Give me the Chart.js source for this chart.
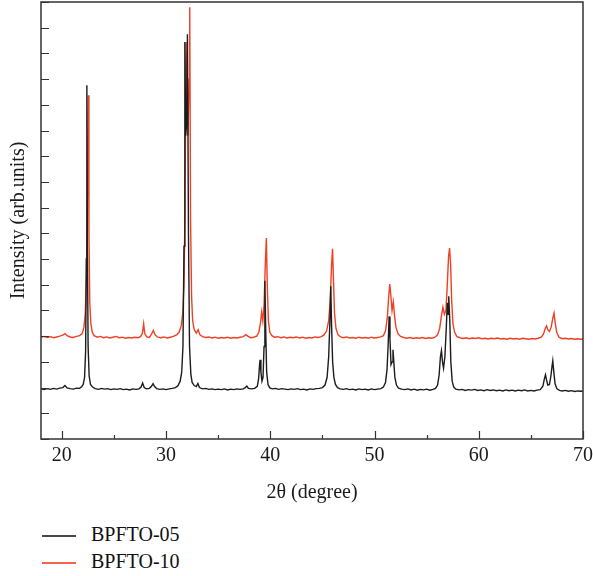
<!DOCTYPE html>
<html>
<head>
<meta charset="utf-8">
<script src="https://cdn.jsdelivr.net/npm/chart.js@4.4.1/dist/chart.umd.min.js"></script>
<style>
  body { margin: 0; background: #fff; }
  #wrap { position: relative; width: 593px; height: 576px; overflow: hidden; }
  #box { position: absolute; left: 0; top: 0; width: 593px; height: 505px; }
  .fila { position: absolute; left: 42px; height: 28px; line-height: 28px; font: 20px "Liberation Serif", "DejaVu Serif", serif; color: #111; white-space: nowrap; }
  .fila span { display: inline-block; width: 34px; height: 2px; vertical-align: middle; margin-right: 15px; opacity: 0.8; }
</style>
</head>
<body>
<div id="wrap">
  <div id="box"><canvas id="grafico"></canvas></div>
  <div id="leyenda"></div>
</div>
<script>
// ==============================
// DATOS
// ==============================
const series = ["BPFTO-05", "BPFTO-10"];
const xTicks = [20, 25, 30, 35, 40, 45, 50, 55, 60, 65, 70];

const x05 = [
  18.0, 18.3, 18.6, 18.9, 19.2, 19.5, 19.8, 20.1, 20.3, 20.5,
  20.8, 21.1, 21.4, 21.7, 21.9, 22.05, 22.18, 22.28, 22.35, 22.4,
  22.45, 22.52, 22.62, 22.75, 22.95, 23.2, 23.5, 23.8, 24.1, 24.4,
  24.7, 25.0, 25.3, 25.6, 25.9, 26.2, 26.5, 26.8, 27.1, 27.4,
  27.6, 27.75, 27.9, 28.1, 28.4, 28.6, 28.75, 28.9, 29.1, 29.4,
  29.7, 30.0, 30.3, 30.6, 30.9, 31.15, 31.35, 31.5, 31.62, 31.72,
  31.8, 31.88, 31.96, 32.05, 32.15, 32.25, 32.38, 32.5, 32.7, 32.9,
  33.05, 33.2, 33.5, 33.8, 34.1, 34.4, 34.7, 35.0, 35.3, 35.6,
  35.9, 36.2, 36.5, 36.8, 37.1, 37.4, 37.6, 37.75, 37.9, 38.2,
  38.5, 38.75, 38.88, 38.97, 39.02, 39.1, 39.2, 39.3, 39.4, 39.48,
  39.56, 39.65, 39.78, 39.95, 40.2, 40.5, 40.8, 41.1, 41.4, 41.7,
  42.0, 42.3, 42.6, 42.9, 43.2, 43.5, 43.8, 44.1, 44.4, 44.7,
  45.0, 45.25, 45.45, 45.6, 45.72, 45.8, 45.88, 45.98, 46.1, 46.25,
  46.45, 46.7, 47.0, 47.3, 47.6, 47.9, 48.2, 48.5, 48.8, 49.1,
  49.4, 49.7, 50.0, 50.3, 50.6, 50.85, 51.05, 51.2, 51.32, 51.4,
  51.48, 51.58, 51.68, 51.77, 51.85, 51.95, 52.1, 52.3, 52.6, 52.9,
  53.2, 53.5, 53.8, 54.1, 54.4, 54.7, 55.0, 55.3, 55.6, 55.85,
  56.05, 56.2, 56.32, 56.42, 56.52, 56.62, 56.75, 56.88, 56.98, 57.05,
  57.12, 57.22, 57.32, 57.45, 57.6, 57.8, 58.1, 58.4, 58.7, 59.0,
  59.3, 59.6, 59.9, 60.2, 60.5, 60.8, 61.1, 61.4, 61.7, 62.0,
  62.3, 62.6, 62.9, 63.2, 63.5, 63.8, 64.1, 64.4, 64.7, 65.0,
  65.3, 65.6, 65.9, 66.15, 66.3, 66.4, 66.5, 66.62, 66.78, 66.92,
  67.02, 67.1, 67.2, 67.32, 67.5, 67.75, 68.0, 68.3, 68.6, 68.9,
  69.2, 69.5, 69.8, 70.0
];
const y05 = [
  1.95, 1.92, 1.96, 1.93, 1.97, 1.94, 1.98, 2.00, 2.08, 1.99,
  1.96, 1.94, 1.98, 1.97, 2.03, 2.12, 2.40, 3.40, 7.00, 13.76,
  7.50, 3.60, 2.45, 2.12, 2.02, 1.96, 1.93, 1.97, 1.94, 1.96,
  1.92, 1.95, 1.93, 1.96, 1.92, 1.94, 1.91, 1.95, 1.93, 1.95,
  2.02, 2.18, 2.00, 1.95, 1.97, 2.05, 2.15, 2.04, 1.96, 1.93,
  1.95, 1.92, 1.95, 1.97, 2.00, 2.08, 2.25, 2.60, 3.60, 7.50,
  15.44, 11.80, 12.20, 15.75, 8.00, 3.60, 2.50, 2.20, 2.08, 2.04,
  2.16, 2.00, 1.95, 1.97, 1.93, 1.95, 1.92, 1.94, 1.92, 1.95,
  1.91, 1.94, 1.92, 1.95, 1.93, 1.95, 2.00, 2.06, 1.97, 1.95,
  1.97, 2.05, 2.35, 2.90, 3.08, 2.60, 2.25, 2.40, 3.60, 6.16,
  4.20, 2.60, 2.12, 1.99, 1.95, 1.97, 1.93, 1.96, 1.94, 1.92,
  1.95, 1.93, 1.96, 1.92, 1.94, 1.91, 1.95, 1.93, 1.96, 1.97,
  2.00, 2.10, 2.40, 3.20, 4.60, 5.94, 4.40, 3.00, 2.40, 2.12,
  2.00, 1.95, 1.93, 1.96, 1.92, 1.94, 1.91, 1.95, 1.92, 1.94,
  1.91, 1.95, 1.92, 1.94, 1.96, 2.02, 2.20, 2.70, 3.80, 4.77,
  3.90, 2.90, 3.00, 3.47, 3.00, 2.40, 2.10, 1.98, 1.94, 1.92,
  1.95, 1.91, 1.94, 1.90, 1.93, 1.91, 1.94, 1.90, 1.93, 1.97,
  2.10, 2.50, 3.20, 3.44, 3.00, 2.75, 3.20, 4.30, 5.30, 4.85,
  5.55, 4.60, 3.00, 2.25, 2.02, 1.94, 1.91, 1.93, 1.89, 1.92,
  1.90, 1.93, 1.89, 1.91, 1.88, 1.92, 1.89, 1.91, 1.88, 1.90,
  1.87, 1.91, 1.88, 1.90, 1.87, 1.90, 1.88, 1.91, 1.87, 1.89,
  1.87, 1.90, 1.92, 2.05, 2.35, 2.50, 2.30, 2.10, 2.12, 2.45,
  2.80, 3.04, 2.60, 2.15, 1.95, 1.89, 1.87, 1.89, 1.86, 1.88,
  1.85, 1.87, 1.86, 1.87
];

const x10 = [
  18.0, 18.3, 18.6, 18.9, 19.2, 19.5, 19.8, 20.1, 20.3, 20.5,
  20.8, 21.1, 21.4, 21.7, 21.95, 22.12, 22.25, 22.36, 22.45, 22.54,
  22.6, 22.68, 22.78, 22.92, 23.1, 23.4, 23.7, 24.0, 24.3, 24.6,
  24.9, 25.2, 25.5, 25.8, 26.1, 26.4, 26.7, 27.0, 27.3, 27.55,
  27.72, 27.85, 27.95, 28.15, 28.4, 28.6, 28.78, 28.95, 29.2, 29.5,
  29.8, 30.1, 30.4, 30.7, 31.0, 31.25, 31.45, 31.6, 31.72, 31.82,
  31.92, 32.02, 32.1, 32.2, 32.27, 32.35, 32.45, 32.55, 32.7, 32.9,
  33.08, 33.25, 33.5, 33.8, 34.1, 34.4, 34.7, 35.0, 35.3, 35.6,
  35.9, 36.2, 36.5, 36.8, 37.1, 37.4, 37.65, 37.85, 38.1, 38.4,
  38.7, 38.9, 39.05, 39.17, 39.28, 39.4, 39.52, 39.62, 39.72, 39.82,
  39.95, 40.15, 40.4, 40.7, 41.0, 41.3, 41.6, 41.9, 42.2, 42.5,
  42.8, 43.1, 43.4, 43.7, 44.0, 44.3, 44.6, 44.9, 45.15, 45.4,
  45.6, 45.75, 45.88, 45.97, 46.06, 46.16, 46.3, 46.5, 46.75, 47.0,
  47.3, 47.6, 47.9, 48.2, 48.5, 48.8, 49.1, 49.4, 49.7, 50.0,
  50.3, 50.6, 50.85, 51.05, 51.22, 51.35, 51.46, 51.56, 51.68, 51.8,
  51.92, 52.05, 52.25, 52.5, 52.8, 53.1, 53.4, 53.7, 54.0, 54.3,
  54.6, 54.9, 55.2, 55.5, 55.8, 56.05, 56.25, 56.42, 56.56, 56.7,
  56.85, 56.98, 57.1, 57.2, 57.3, 57.4, 57.52, 57.68, 57.9, 58.2,
  58.5, 58.8, 59.1, 59.4, 59.7, 60.0, 60.3, 60.6, 60.9, 61.2,
  61.5, 61.8, 62.1, 62.4, 62.7, 63.0, 63.3, 63.6, 63.9, 64.2,
  64.5, 64.8, 65.1, 65.4, 65.7, 66.0, 66.2, 66.38, 66.5, 66.62,
  66.78, 66.95, 67.1, 67.22, 67.34, 67.48, 67.7, 68.0, 68.3, 68.6,
  68.9, 69.2, 69.5, 69.8, 70.0
];
const y10 = [
  3.96, 3.99, 3.95, 3.98, 3.94, 3.97, 4.00, 4.04, 4.10, 4.02,
  3.97, 3.95, 3.99, 4.02, 4.10, 4.35, 4.90, 6.40, 9.50, 13.37,
  8.00, 5.30, 4.50, 4.15, 4.02, 3.96, 3.99, 3.94, 3.97, 3.93,
  3.96, 3.99, 3.94, 3.96, 3.92, 3.95, 3.93, 3.96, 3.94, 3.98,
  4.10, 4.48, 4.10, 3.97, 3.95, 4.08, 4.22, 4.05, 3.96, 3.94,
  3.97, 3.93, 3.96, 3.99, 4.05, 4.15, 4.40, 4.90, 6.00, 9.00,
  15.44, 12.50, 11.80, 14.00, 16.80, 8.50, 5.50, 4.60, 4.25, 4.12,
  4.25, 4.05, 3.98, 3.95, 3.97, 3.93, 3.96, 3.92, 3.95, 3.93,
  3.96, 3.92, 3.95, 3.93, 3.96, 3.98, 4.06, 4.00, 3.94, 3.96,
  4.00, 4.15, 4.50, 4.94, 4.60, 5.20, 6.80, 7.82, 5.80, 4.60,
  4.15, 4.02, 3.96, 3.98, 3.94, 3.97, 3.93, 3.96, 3.94, 3.97,
  3.93, 3.96, 3.92, 3.95, 3.93, 3.97, 3.95, 3.98, 4.05, 4.20,
  4.60, 5.40, 6.80, 7.40, 6.20, 4.90, 4.30, 4.05, 3.97, 3.94,
  3.97, 3.93, 3.95, 3.92, 3.96, 3.93, 3.95, 3.92, 3.96, 3.93,
  3.95, 3.97, 4.02, 4.20, 4.70, 5.50, 6.03, 5.60, 5.00, 5.33,
  4.80, 4.35, 4.10, 3.99, 3.95, 3.92, 3.95, 3.91, 3.94, 3.92,
  3.95, 3.91, 3.94, 3.92, 3.96, 4.05, 4.30, 4.80, 5.13, 4.85,
  5.00, 6.00, 7.10, 7.43, 6.80, 5.40, 4.50, 4.15, 3.98, 3.94,
  3.91, 3.94, 3.90, 3.93, 3.91, 3.94, 3.90, 3.92, 3.89, 3.92,
  3.90, 3.93, 3.89, 3.91, 3.88, 3.92, 3.89, 3.91, 3.88, 3.92,
  3.90, 3.88, 3.91, 3.89, 3.92, 3.96, 4.08, 4.30, 4.40, 4.25,
  4.18, 4.35, 4.70, 4.90, 4.50, 4.15, 3.96, 3.90, 3.92, 3.89,
  3.91, 3.88, 3.90, 3.88, 3.89
];

const colores = ["#1c1c1c", "#ef4023"];
const fuente = "'Liberation Serif', 'DejaVu Serif', serif";

// ==============================
// MARCO Y MARCAS HACIA DENTRO
// ==============================
const marcas = {
  id: "marcas",
  afterDraw(chart) {
    const { ctx, chartArea: a, scales: { x, y } } = chart;
    ctx.save();
    ctx.strokeStyle = "#333";
    ctx.lineWidth = 1.5;
    ctx.strokeRect(a.left, a.top, a.right - a.left, a.bottom - a.top);
    ctx.lineWidth = 1.2;
    ctx.beginPath();
    x.ticks.forEach(t => {
      const px = Math.round(x.getPixelForValue(t.value)) + 0.5;
      const largo = t.value % 10 === 0 ? 8 : 4;
      ctx.moveTo(px, a.bottom);
      ctx.lineTo(px, a.bottom - largo);
    });
    y.ticks.forEach(t => {
      const py = Math.round(y.getPixelForValue(t.value)) + 0.5;
      ctx.moveTo(a.left, py);
      ctx.lineTo(a.left + 8, py);
    });
    ctx.stroke();
    ctx.restore();
  }
};

// ==============================
// GRÁFICA
// ==============================
Chart.defaults.font.family = fuente;
Chart.defaults.font.size = 20;
Chart.defaults.color = "#1a1a1a";

const grafico = new Chart(document.getElementById("grafico"), {
  type: "line",
  data: {
    datasets: [
      { label: series[0], data: x05.map((v, i) => ({ x: v, y: y05[i] })), borderColor: colores[0] },
      { label: series[1], data: x10.map((v, i) => ({ x: v, y: y10[i] })), borderColor: colores[1] }
    ].map(d => Object.assign(d, { borderWidth: 1.4, pointRadius: 0, tension: 0, fill: false }))
  },
  options: {
    responsive: true,
    maintainAspectRatio: false,
    animation: false,
    layout: { padding: { top: 2, right: 0, left: 0, bottom: 0 } },
    plugins: { legend: { display: false }, tooltip: { enabled: false } },
    scales: {
      x: {
        type: "linear",
        min: 18,
        max: 70,
        grid: { display: false, drawTicks: false },
        border: { display: false },
        afterBuildTicks: s => { s.ticks = xTicks.map(v => ({ value: v })); },
        afterFit: s => { s.height = 66; s.paddingLeft = 0; s.paddingRight = 10; },
        ticks: {
          autoSkip: false,
          maxRotation: 0,
          padding: 5,
          callback: v => (v % 10 === 0 ? v : "")
        },
        title: { display: true, text: "2θ (degree)", padding: { top: 5, bottom: 0 } }
      },
      y: {
        min: 0,
        max: 17,
        grid: { display: false, drawTicks: false },
        border: { display: false },
        afterFit: s => { s.width = 41; },
        ticks: { stepSize: 1, display: false },
        title: { display: true, text: "Intensity (arb.units)", padding: { top: 7, bottom: 0 } }
      }
    }
  },
  plugins: [marcas]
});

// ==============================
// LEYENDA
// ==============================
const leyenda = document.getElementById("leyenda");
grafico.data.datasets.forEach((d, i) => {
  const fila = document.createElement("div");
  fila.className = "fila";
  fila.style.top = (523 + i * 27) + "px";
  fila.innerHTML = '<span style="background:' + d.borderColor + '"></span>' + d.label;
  leyenda.appendChild(fila);
});
</script>
</body>
</html>
